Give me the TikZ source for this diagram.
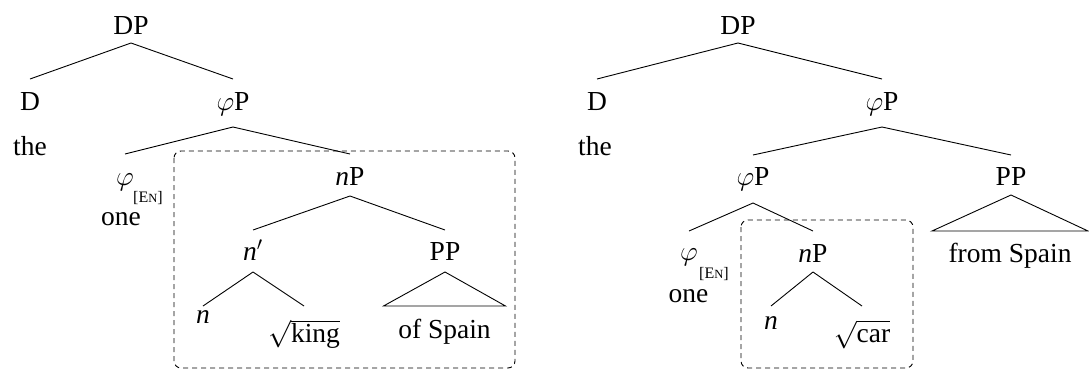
\documentclass[tikz,border=0pt]{standalone}
\usepackage{fix-cm}
\usepackage{fontspec}
\setmainfont{Liberation Serif}
\newcommand{\enfeat}{{\fontsize{16}{16}\selectfont[E}{\fontsize{12.5}{12.5}\selectfont N}{\fontsize{16}{16}\selectfont]}}
\begin{document}
\begin{tikzpicture}[x=1pt,y=-1pt,
  lbl/.style={anchor=base,inner sep=0pt,font=\fontsize{27.5}{32}\selectfont},
  lblw/.style={anchor=base west,inner sep=0pt,font=\fontsize{27.5}{32}\selectfont},
  feat/.style={anchor=base west,inner sep=0pt},
  edge/.style={line width=0.9pt},
  focus/.style={line width=0.9pt,dash pattern=on 5pt off 4pt,rounded corners=7pt}]
\useasboundingbox (0,0) rectangle (1089,370);
% ---------- left tree ----------
\node[lbl] (DPa) at (131,34) {DP};
\node[lbl] (Da) at (30,110) {D};
\node[lbl] (phPa) at (233,110) {$\varphi$P};
\node[lblw] (thea) at (13,155) {the};
\node[lbl] (pha) at (125,185) {$\varphi$};
\node[feat] (suba) at (133,202) {\enfeat};
\node[lbl] (onea) at (121,225) {one};
\node[lbl] (nPa) at (350,185) {\textit{n}P};
\node[lbl] (npra) at (253,260) {\textit{n}$'$};
\node[lbl] (PPa) at (445,260) {PP};
\node[lbl] (na) at (203,323) {\textit{n}};
\node[lbl] (king) at (304,342) {$\sqrt{\mbox{king}}$};
\node[lbl] (ofSpain) at (444.5,338) {of Spain};
\draw[edge] ([yshift=-9pt]DPa.base) -- ([yshift=31pt]Da.base);
\draw[edge] ([yshift=-9pt]DPa.base) -- ([yshift=31pt]phPa.base);
\draw[edge] ([yshift=-17pt]phPa.base) -- ([yshift=31pt]pha.base);
\draw[edge] ([yshift=-17pt]phPa.base) -- ([yshift=31pt]nPa.base);
\draw[edge] ([yshift=-11pt]nPa.base) -- ([yshift=30pt]npra.base);
\draw[edge] ([yshift=-11pt]nPa.base) -- ([yshift=30pt]PPa.base);
\draw[edge] ([yshift=-12pt]npra.base) -- ([yshift=17pt]na.base);
\draw[edge] ([yshift=-12pt]npra.base) -- ([yshift=36pt]king.base);
\draw[edge] ([yshift=-12pt]PPa.base) -- ([xshift=-61pt,yshift=32pt]ofSpain.base)
   -- ([xshift=61pt,yshift=32pt]ofSpain.base) -- cycle;
\draw[focus] (174,151) rectangle (515,368);
% ---------- right tree ----------
\node[lbl] (DPb) at (738,34) {DP};
\node[lbl] (Db) at (597,110) {D};
\node[lbl] (phPb) at (882,110) {$\varphi$P};
\node[lblw] (theb) at (578,155) {the};
\node[lbl] (phPc) at (753,185) {$\varphi$P};
\node[lbl] (PPb) at (1011,185) {PP};
\node[lbl] (phb) at (689,260) {$\varphi$};
\node[feat] (subb) at (699,278) {\enfeat};
\node[lbl] (oneb) at (688.5,302) {one};
\node[lbl] (nPb) at (813,262) {\textit{n}P};
\node[lbl] (nb) at (771,329) {\textit{n}};
\node[lbl] (car) at (862,342) {$\sqrt{\mbox{car}}$};
\node[lbl] (fromSpain) at (1010,262) {from Spain};
\draw[edge] ([yshift=-9pt]DPb.base) -- ([yshift=31pt]Db.base);
\draw[edge] ([yshift=-9pt]DPb.base) -- ([yshift=31pt]phPb.base);
\draw[edge] ([yshift=-17pt]phPb.base) -- ([yshift=30pt]phPc.base);
\draw[edge] ([yshift=-17pt]phPb.base) -- ([yshift=30pt]PPb.base);
\draw[edge] ([yshift=-18pt]phPc.base) -- ([yshift=29pt]phb.base);
\draw[edge] ([yshift=-18pt]phPc.base) -- ([yshift=31pt]nPb.base);
\draw[edge] ([yshift=-10pt]nPb.base) -- ([yshift=23pt]nb.base);
\draw[edge] ([yshift=-10pt]nPb.base) -- ([yshift=36pt]car.base);
\draw[edge] ([yshift=-10pt]PPb.base) -- ([xshift=-78pt,yshift=31pt]fromSpain.base)
   -- ([xshift=78pt,yshift=31pt]fromSpain.base) -- cycle;
\draw[focus] (741,220) rectangle (913,368);
\end{tikzpicture}
\end{document}
